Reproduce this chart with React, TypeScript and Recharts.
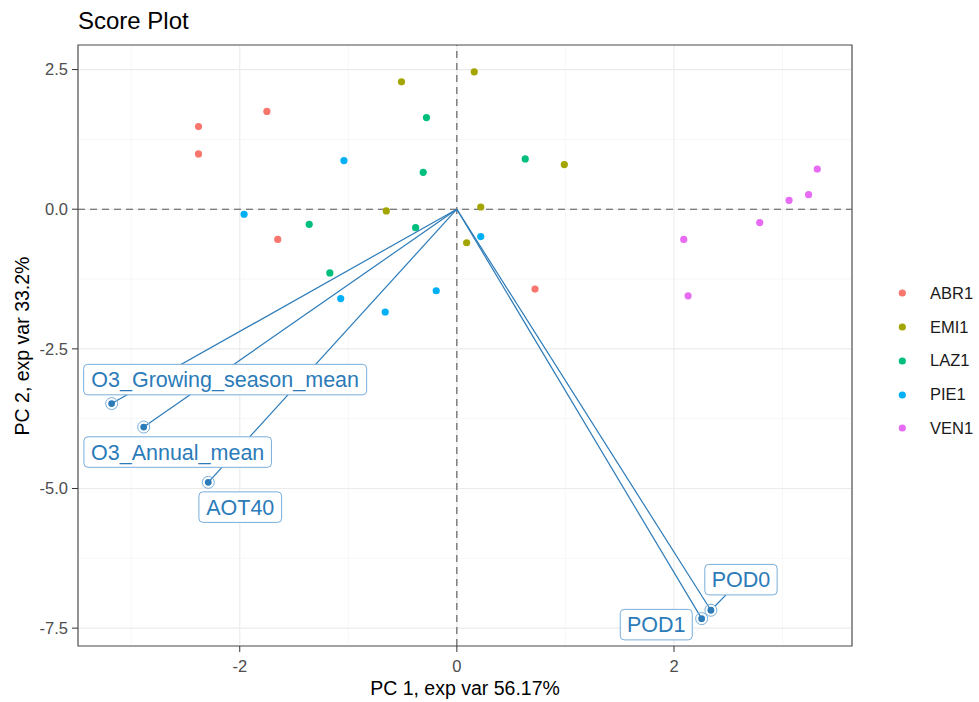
import React from 'react';
import { ScatterChart, Scatter, XAxis, YAxis, CartesianGrid, ReferenceLine, ReferenceArea } from 'recharts';

const groupNames = ['ABR1', 'EMI1', 'LAZ1', 'PIE1', 'VEN1'];
const groupColors = ['#F8766D', '#A3A500', '#00BF7D', '#00B0F6', '#E76BF3'];

// PCA scores
const abr1X = [-2.38, -2.38, -1.75, -1.65, 0.72];
const abr1Y = [1.48, 0.99, 1.75, -0.54, -1.43];
const emi1X = [-0.51, -0.65, 0.09, 0.16, 0.99, 0.22];
const emi1Y = [2.28, -0.03, -0.6, 2.46, 0.8, 0.04];
const laz1X = [-0.28, -0.31, -1.36, -0.38, -1.17, 0.63];
const laz1Y = [1.64, 0.66, -0.27, -0.33, -1.14, 0.9];
const pie1X = [-1.04, -1.96, -1.07, -0.66, -0.19, 0.22];
const pie1Y = [0.87, -0.09, -1.6, -1.84, -1.46, -0.49];
const ven1X = [2.09, 2.13, 2.79, 3.06, 3.24, 3.32];
const ven1Y = [-0.54, -1.55, -0.24, 0.16, 0.26, 0.72];

// loading arrows (tips)
const loadingNames = ['O3_Growing_season_mean', 'O3_Annual_mean', 'AOT40', 'POD0', 'POD1'];
const loadingX = [-3.18, -2.885, -2.29, 2.34, 2.255];
const loadingY = [-3.48, -3.9, -4.89, -7.18, -7.33];

const xTicks = [-2, 0, 2];
const xMinorTicks = [-3, -1, 1, 3];
const yTicks = [-7.5, -5, -2.5, 0, 2.5];
const yMinorTicks = [-6.25, -3.75, -1.25, 1.25];
const xDomain = [-3.49, 3.64];
const yDomain = [-7.82, 2.94];

const groupX = [abr1X, emi1X, laz1X, pie1X, ven1X];
const groupY = [abr1Y, emi1Y, laz1Y, pie1Y, ven1Y];
const groupData = groupNames.map((g, i) => groupX[i].map((x, j) => ({ x, y: groupY[i][j] })));
const loadingData = loadingNames.map((name, i) => ({ name, x: loadingX[i], y: loadingY[i] }));

const BLUE = '#2B7BB9';
const BOX_BORDER = '#78ADDA';
const BOX_H = 30.5;
const FONT = '"Liberation Sans", Arial, sans-serif';

// where the repelled label boxes ended up, in px from the arrow tip
const labelLayout: Record<string, { dx: number; dy: number; w: number }> = {
  O3_Growing_season_mean: { dx: 113.5, dy: -24, w: 283 },
  O3_Annual_mean: { dx: 34, dy: 25, w: 187.5 },
  AOT40: { dx: 32, dy: 24.8, w: 82.7 },
  POD0: { dx: 30.1, dy: -30.6, w: 72.3 },
  POD1: { dx: -45.4, dy: 6, w: 72 },
};

const Dot = (props: any) => <circle cx={props.cx} cy={props.cy} r={3.6} fill={props.fill} />;
const Empty = () => <g />;

const LoadingTip = (props: any) => {
  const { cx, cy, payload } = props;
  const lay = labelLayout[payload.name];
  const bx = cx + lay.dx;
  const by = cy + lay.dy;
  const left = bx - lay.w / 2;
  const right = bx + lay.w / 2;
  const top = by - BOX_H / 2;
  const bottom = by + BOX_H / 2;
  const nx = Math.min(Math.max(cx, left), right);
  const ny = Math.min(Math.max(cy, top), bottom);
  let seg = null;
  if (Math.hypot(cx - nx, cy - ny) > 12) {
    const ddx = bx - cx;
    const ddy = by - cy;
    const tx = cx < left ? (left - cx) / ddx : cx > right ? (right - cx) / ddx : 0;
    const ty = cy < top ? (top - cy) / ddy : cy > bottom ? (bottom - cy) / ddy : 0;
    const t = Math.max(tx, ty);
    const s = 6 / Math.hypot(ddx, ddy);
    seg = (
      <line x1={cx + ddx * s} y1={cy + ddy * s} x2={cx + ddx * t} y2={cy + ddy * t} stroke={BLUE} strokeWidth={1.2} />
    );
  }
  return (
    <g>
      {seg}
      <circle cx={cx} cy={cy} r={6} fill="none" stroke={BOX_BORDER} strokeWidth={1} />
      <circle cx={cx} cy={cy} r={3.4} fill={BLUE} />
      <rect x={left} y={top} width={lay.w} height={BOX_H} rx={4} fill="#fff" stroke={BOX_BORDER} strokeWidth={1} />
      <text x={bx} y={by} dy="0.36em" textAnchor="middle" fontSize={21.5} fill={BLUE} fontFamily={FONT}>
        {payload.name}
      </text>
    </g>
  );
};

const GroupLegend = () => (
  <div style={{ position: 'absolute', left: 890, top: 276.5, fontFamily: FONT }}>
    {groupNames.map((g, i) => (
      <div key={g} style={{ height: 33.75, display: 'flex', alignItems: 'center' }}>
        <svg width={40} height={20}>
          <circle cx={12.3} cy={10} r={3.6} fill={groupColors[i]} />
        </svg>
        <span style={{ fontSize: 16.5, color: '#1a1a1a' }}>{g}</span>
      </div>
    ))}
  </div>
);

export default function App() {
  return (
    <div style={{ position: 'relative', width: 979, height: 702, background: '#fff', fontFamily: FONT }}>
      <style>{`body{margin:0}`}</style>
      <div style={{ position: 'absolute', left: 78, top: 9, fontSize: 24, lineHeight: 1, color: '#000' }}>Score Plot</div>
      <div style={{ position: 'absolute', left: 78, width: 774, top: 678.5, fontSize: 19.5, lineHeight: 1, textAlign: 'center', color: '#000' }}>
        PC 1, exp var 56.17%
      </div>
      <div
        style={{
          position: 'absolute',
          left: 22.5,
          top: 345.5,
          fontSize: 19.5,
          lineHeight: 1,
          whiteSpace: 'nowrap',
          color: '#000',
          transform: 'translate(-50%, -50%) rotate(-90deg)',
        }}
      >
        PC 2, exp var 33.2%
      </div>
      <ScatterChart width={979} height={702} margin={{ top: 45, right: 127, bottom: 26, left: 28 }}>
        <XAxis xAxisId="minor" type="number" dataKey="x" domain={xDomain} ticks={xMinorTicks} allowDataOverflow hide />
        <YAxis yAxisId="minor" type="number" dataKey="y" domain={yDomain} ticks={yMinorTicks} allowDataOverflow hide />
        <CartesianGrid xAxisId="minor" yAxisId="minor" stroke="#F2F2F2" strokeWidth={0.6} />
        <CartesianGrid stroke="#EBEBEB" strokeWidth={1.1} />
        <XAxis
          type="number"
          dataKey="x"
          domain={xDomain}
          ticks={xTicks}
          allowDataOverflow
          height={30}
          axisLine={false}
          tickSize={6}
          tickMargin={8}
          tickLine={{ stroke: '#333' }}
          tick={{ fill: '#4D4D4D', fontSize: 16.5, fontFamily: FONT }}
        />
        <YAxis
          type="number"
          dataKey="y"
          domain={yDomain}
          ticks={yTicks}
          allowDataOverflow
          width={50}
          axisLine={false}
          tickSize={6}
          tickMargin={4}
          tickLine={{ stroke: '#333' }}
          tickFormatter={(v: number) => v.toFixed(1)}
          tick={{ fill: '#4D4D4D', fontSize: 16.5, fontFamily: FONT }}
        />
        <ReferenceLine x={0} stroke="#555" strokeDasharray="7 5" strokeWidth={1.1} />
        <ReferenceLine y={0} stroke="#555" strokeDasharray="7 5" strokeWidth={1.1} />
        <ReferenceArea x1={xDomain[0]} x2={xDomain[1]} y1={yDomain[0]} y2={yDomain[1]} fill="none" stroke="#555" strokeWidth={1.2} />
        {groupNames.map((g, i) => (
          <Scatter key={g} name={g} data={groupData[i]} fill={groupColors[i]} shape={Dot} isAnimationActive={false} />
        ))}
        {loadingData.map((l) => (
          <Scatter
            key={'arrow-' + l.name}
            name={'arrow-' + l.name}
            data={[{ x: 0, y: 0 }, { x: l.x, y: l.y }]}
            line={{ stroke: BLUE, strokeWidth: 1.2 }}
            shape={Empty}
            isAnimationActive={false}
          />
        ))}
        <Scatter name="loadings" data={loadingData} shape={LoadingTip} isAnimationActive={false} />
      </ScatterChart>
      <GroupLegend />
    </div>
  );
}
